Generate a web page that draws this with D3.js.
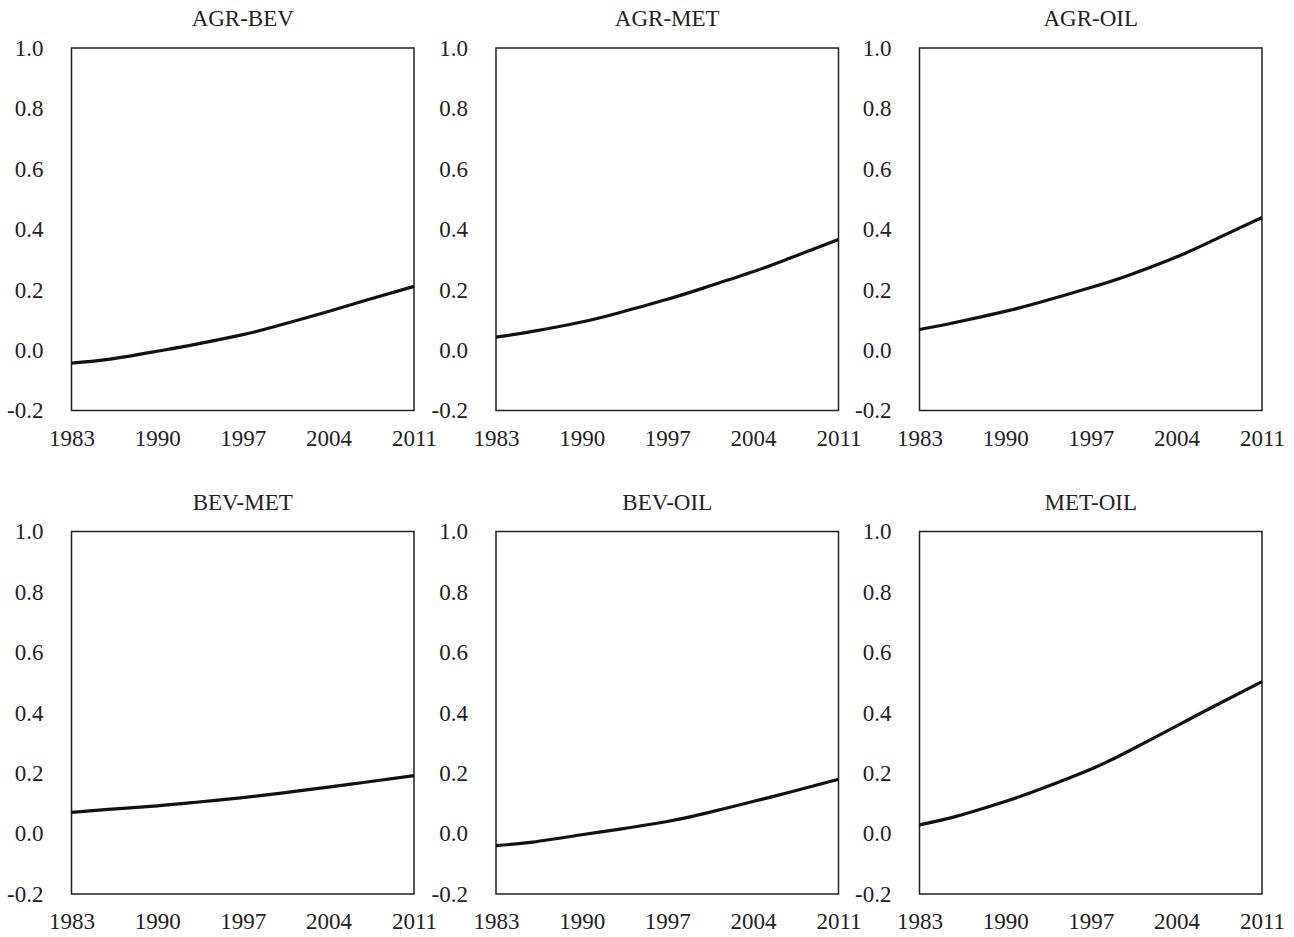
<!DOCTYPE html>
<html>
<head>
<meta charset="utf-8">
<script src="https://cdn.jsdelivr.net/npm/d3@7"></script>
<style>
  body { margin: 0; background: #fff; }
  text { font-family: "Liberation Serif", "Times New Roman", serif; fill: #222; }
</style>
</head>
<body>
<div id="chart"></div>
<script>
// sample years
const years = [1983, 1986, 1990, 1993, 1997, 2000, 2004, 2007, 2011];

const titles = ["AGR-BEV", "AGR-MET", "AGR-OIL", "BEV-MET", "BEV-OIL", "MET-OIL"];

const agrBev = [-0.043, -0.031, -0.004, 0.018, 0.051, 0.082, 0.128, 0.164, 0.211];
const agrMet = [0.043, 0.062, 0.093, 0.123, 0.168, 0.206, 0.259, 0.304, 0.366];
const agrOil = [0.068, 0.092, 0.128, 0.160, 0.207, 0.246, 0.308, 0.363, 0.439];
const bevMet = [0.070, 0.080, 0.092, 0.103, 0.119, 0.133, 0.154, 0.170, 0.192];
const bevOil = [-0.040, -0.028, -0.004, 0.014, 0.040, 0.066, 0.106, 0.137, 0.180];
const metOil = [0.029, 0.057, 0.106, 0.149, 0.213, 0.271, 0.356, 0.420, 0.503];

const xTicks = [1983, 1990, 1997, 2004, 2011];
const yTicks = [-0.2, 0, 0.2, 0.4, 0.6, 0.8, 1.0];

const series = [agrBev, agrMet, agrOil, bevMet, bevOil, metOil];

// layout
const W = 1294, H = 937;
const lefts = [71.5, 496, 919.5];
const tops = [48, 531.5];
const pw = 342.5, ph = 362.5;
const fontSize = "23px";

const svg = d3.select("#chart")
  .append("svg")
  .attr("width", W)
  .attr("height", H);

const x = d3.scaleLinear().domain([1983, 2011]).range([0, pw]);
const y = d3.scaleLinear().domain([-0.2, 1.0]).range([ph, 0]);

// plain hyphen for negatives, like the original
const yFmt = d => d3.format(".1f")(d).replace("\u2212", "-");

const line = d3.line()
  .x(d => x(d[0]))
  .y(d => y(d[1]))
  .curve(d3.curveNatural);

series.forEach((vals, i) => {
  const col = i % 3, row = Math.floor(i / 3);
  const g = svg.append("g")
    .attr("transform", `translate(${lefts[col]},${tops[row]})`);

  // x axis
  const xa = g.append("g")
    .attr("transform", `translate(0,${ph})`)
    .call(d3.axisBottom(x).tickValues(xTicks).tickFormat(d3.format("d")).tickSize(0).tickPadding(19));
  xa.select(".domain").remove();
  xa.selectAll("text").style("font-size", fontSize).style("fill", "#222");

  // y axis
  const ya = g.append("g")
    .call(d3.axisLeft(y).tickValues(yTicks).tickFormat(yFmt).tickSize(0).tickPadding(28));
  ya.select(".domain").remove();
  ya.selectAll("text").style("font-size", fontSize).style("fill", "#222");

  // box
  g.append("rect")
    .attr("x", 0).attr("y", 0)
    .attr("width", pw).attr("height", ph)
    .attr("fill", "none")
    .attr("stroke", "#222")
    .attr("stroke-width", 1.5);

  // title
  g.append("text")
    .attr("x", pw / 2)
    .attr("y", -22)
    .attr("text-anchor", "middle")
    .style("font-size", fontSize)
    .text(titles[i]);

  g.append("path")
    .datum(years.map((yr, k) => [yr, vals[k]]))
    .attr("fill", "none")
    .attr("stroke", "#111")
    .attr("stroke-width", 3.2)
    .attr("d", line);
});
</script>
</body>
</html>
